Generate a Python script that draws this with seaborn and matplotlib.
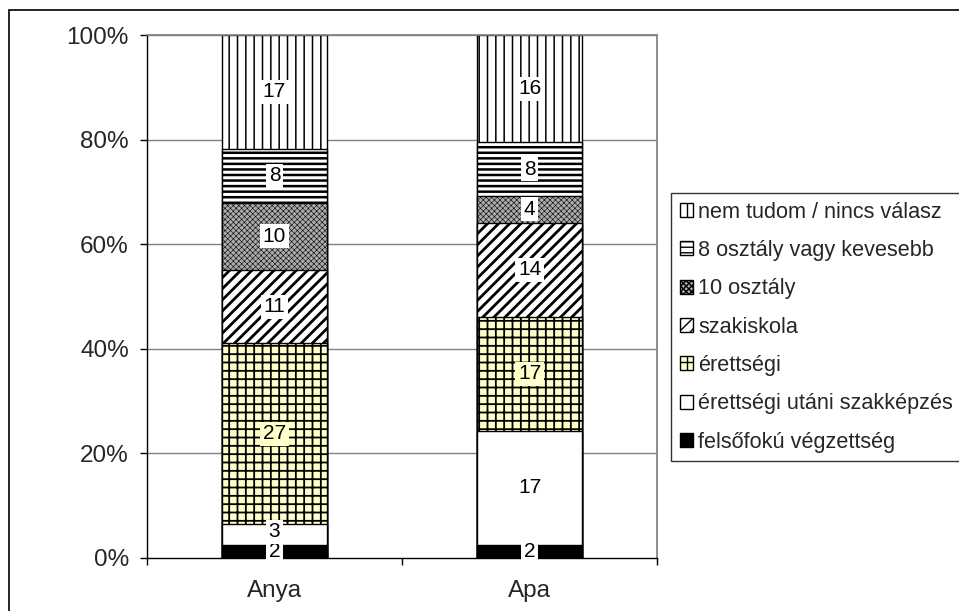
import matplotlib
matplotlib.use("Agg")
import matplotlib.pyplot as plt
import seaborn as sns
import numpy as np
from matplotlib.patches import Patch, Rectangle
from matplotlib.ticker import FixedLocator, PercentFormatter

# ---- data ----
groups = ["Anya", "Apa"]
series_names = [
    "felsőfokú végzettség",
    "érettségi utáni szakképzés",
    "érettségi",
    "szakiskola",
    "10 osztály",
    "8 osztály vagy kevesebb",
    "nem tudom / nincs válasz",
]
anya_counts = [2, 3, 27, 11, 10, 8, 17]
apa_counts = [2, 17, 17, 14, 4, 8, 16]
y_ticks = [0, 20, 40, 60, 80, 100]

# ---- styles (bottom to top) ----
faces = ["black", "white", "#FFFFCC", "white", "#ababab", "white", "white"]
hatches = [None, None, "++", "///", "xxxxxx", "---", "||"]
hatch_lws = [1.0, 1.0, 1.3, 2.0, 0.4, 1.8, 1.1]
label_bg = ["white", "white", "#FFFFCC", "white", "white", "white", "white"]

sns.set_theme(style="white")
plt.rcParams["font.family"] = ["Liberation Sans", "DejaVu Sans"]

fig = plt.figure(figsize=(9.59, 6.11), dpi=100)
ax = fig.add_axes([147 / 959, 1 - 558 / 611, (657 - 147) / 959, (558 - 35) / 611])

counts = np.array([anya_counts, apa_counts], dtype=float)
totals = counts.sum(axis=1, keepdims=True)
pct = counts / totals * 100
cum = np.cumsum(pct, axis=1)

# draw from top-most cumulative down so lower segments cover upper bars
for k in reversed(range(len(series_names))):
    plt.rcParams["hatch.linewidth"] = hatch_lws[k]
    n_before = len(ax.patches)
    kw = {}
    if hatches[k]:
        kw["hatch"] = hatches[k]
    sns.barplot(x=groups, y=cum[:, k], color=faces[k], saturation=1,
                width=0.41, edgecolor="black", linewidth=1.0,
                errorbar=None, ax=ax, zorder=3, **kw)
    for p in ax.patches[n_before:]:
        try:
            p.set_hatch_linewidth(hatch_lws[k])
        except Exception:
            pass

# labels (centred in segments, nudged up when too close to the one below)
min_sep = 3.7
for i in range(len(groups)):
    prev = -100.0
    for k in range(len(series_names)):
        lo = cum[i, k] - pct[i, k]
        mid = (lo + cum[i, k]) / 2
        mid = max(mid, prev + min_sep)
        prev = mid
        ax.text(i, mid, f"{int(counts[i, k])}", ha="center", va="center",
                fontsize=15, color="black", zorder=5,
                bbox=dict(boxstyle="square,pad=0.12", fc=label_bg[k], ec="none"))

ax.set_ylim(0, 100)
ax.set_xlim(-0.5, 1.5)
ax.yaxis.set_major_locator(FixedLocator(y_ticks))
ax.yaxis.set_major_formatter(PercentFormatter(decimals=0))
ax.grid(False)
for y in y_ticks[1:]:
    ax.axhline(y, color="#808080", lw=1.0, zorder=1)

ax.set_xlabel("")
ax.set_ylabel("")
ax.spines["left"].set_color("black")
ax.spines["bottom"].set_color("black")
ax.spines["left"].set_linewidth(1.0)
ax.spines["bottom"].set_linewidth(1.0)
ax.spines["right"].set_color("#808080")
ax.spines["top"].set_color("#808080")
for s in ax.spines.values():
    s.set_zorder(4)

ax.tick_params(axis="y", which="major", direction="out", length=5, width=1,
               color="black", left=True, labelsize=17.5, pad=8)
ax.xaxis.set_minor_locator(FixedLocator([-0.5, 0.5, 1.5]))
ax.tick_params(axis="x", which="major", length=0, labelsize=17.5, pad=16)
ax.tick_params(axis="x", which="minor", direction="out", length=5, width=1,
               color="black", bottom=True)

# legend (top to bottom reversed)
handles = []
for k in reversed(range(len(series_names))):
    handles.append(Patch(facecolor=faces[k], edgecolor="black",
                         hatch=hatches[k], linewidth=1.0, label=series_names[k]))
leg = fig.legend(handles=handles, loc="upper left",
                 bbox_to_anchor=(671 / 959, 1 - 193 / 611),
                 bbox_transform=fig.transFigure, borderaxespad=0,
                 frameon=True, fancybox=False, fontsize=15.6,
                 handlelength=0.6, handleheight=0.6, handletextpad=0.25,
                 labelspacing=0.8, borderpad=0.4, edgecolor="black")
leg.get_frame().set_linewidth(1.0)

# outer chart frame
fig.patches.append(Rectangle((9 / 959, -0.1), 1.5, 1 - 10 / 611 + 0.1,
                             transform=fig.transFigure, fill=False,
                             edgecolor="black", linewidth=1.2))

fig.savefig("out.png", dpi=100)
